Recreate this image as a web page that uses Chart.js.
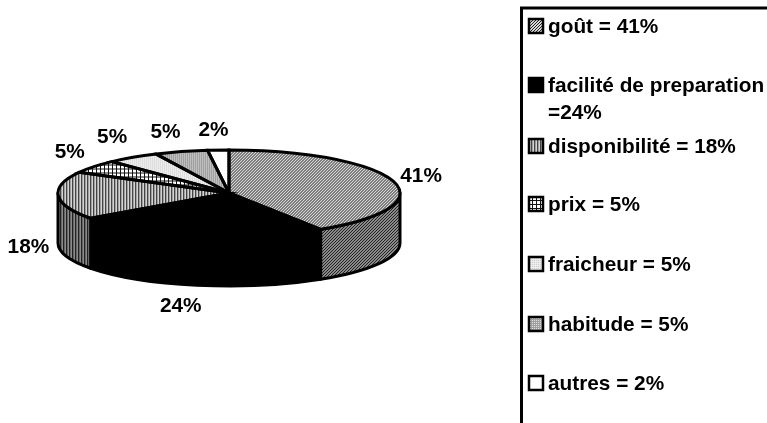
<!DOCTYPE html>
<html>
<head>
<meta charset="utf-8">
<style>
  html, body { margin: 0; padding: 0; background: #fff; overflow: hidden; }
  canvas { display: block; }
</style>
<script src="https://cdn.jsdelivr.net/npm/chart.js@4/dist/chart.umd.min.js"></script>
</head>
<body>
<canvas id="pie" width="767" height="423"></canvas>
<script>
const categories = ['goût', 'facilité de preparation', 'disponibilité', 'prix', 'fraicheur', 'habitude', 'autres'];
const shares = [41, 24, 18, 5, 5, 5, 2];
const shareLabels = ['41%', '24%', '18%', '5%', '5%', '5%', '2%'];
const legendLines = [
  ['goût = 41%'],
  ['facilité de preparation', '=24%'],
  ['disponibilité = 18%'],
  ['prix = 5%'],
  ['fraicheur = 5%'],
  ['habitude = 5%'],
  ['autres = 2%']
];

const FONT = 'bold 20.8px "Liberation Sans", Arial, sans-serif';
const CENTER_Y = 193;     // centre of the top face on the page
const SQUASH = 43 / 171;  // tilt of the disc
const DEPTH = 50;         // height of the wall
const LINE = 3;

// small pixel tiles for the print style fills
function tile(w, h, paint) {
  const c = document.createElement('canvas');
  c.width = w;
  c.height = h;
  const g = c.getContext('2d');
  for (let y = 0; y < h; y++) {
    for (let x = 0; x < w; x++) {
      g.fillStyle = paint(x, y);
      g.fillRect(x, y, 1, 1);
    }
  }
  return c;
}

function pattern(c, squashed) {
  const p = c.getContext('2d').createPattern(c, 'repeat');
  if (squashed) p.setTransform(new DOMMatrix().scale(1, 1 / SQUASH));
  return p;
}

const tiles = [
  tile(3, 3, (x, y) => (x + y) % 3 === 0 ? '#222' : '#d8d8d8'),
  null,
  tile(3, 1, x => ['#444', '#a0a0a0', '#d4d4d4'][x]),
  tile(4, 4, (x, y) => (x % 4 === 0 || y % 4 === 0) ? '#111' : '#fff'),
  tile(4, 4, (x, y) => (x % 2 === 0 && y % 2 === 0) ? '#cfcfcf' : '#ececec'),
  tile(4, 4, (x, y) => (x % 2 === 0 && y % 2 === 0) ? '#dcdcdc' : '#a0a0a0'),
  null
];
const solidFills = ['', '#000', '', '', '', '', '#fff'];

const wallTiles = [
  tile(3, 3, (x, y) => (x + y) % 3 === 0 ? '#222' : '#8a8a8a'),
  null,
  tile(3, 1, x => ['#222', '#666', '#8c8c8c'][x])
];

const faceFills = tiles.map((t, i) => t ? pattern(t, true) : solidFills[i]);
const plainFills = tiles.map((t, i) => t ? pattern(t, false) : solidFills[i]);
const wallFills = [pattern(wallTiles[0], false), '#000', pattern(wallTiles[2], false)];

// hand placement of the percentages, the way the labels were dragged
const labelNudge = [[4, 1], [-8, 0], [1, 0], [1, -2], [-2, -3], [-5, 1], [0, 1]];

function faceY(arc, sin) {
  return CENTER_Y + sin * arc.outerRadius * SQUASH;
}

// Disc drawing: chart.js paints the arcs under a vertical squash,
// walls go below them and outlines above them.
const tiltedDisc = {
  id: 'tiltedDisc',
  beforeDatasetsDraw(chart) {
    const ctx = chart.ctx;
    const arcs = chart.getDatasetMeta(0).data;
    ctx.save();
    ctx.lineWidth = LINE;
    ctx.strokeStyle = '#000';
    ctx.lineJoin = 'round';
    arcs.forEach((arc, i) => {
      const a0 = Math.max(arc.startAngle, 0);
      const a1 = Math.min(arc.endAngle, Math.PI);
      if (a1 <= a0) return;
      const rx = arc.outerRadius;
      const ry = rx * SQUASH;
      ctx.beginPath();
      ctx.ellipse(arc.x, CENTER_Y, rx, ry, 0, a0, a1);
      ctx.lineTo(arc.x + rx * Math.cos(a1), faceY(arc, Math.sin(a1)) + DEPTH);
      ctx.ellipse(arc.x, CENTER_Y + DEPTH, rx, ry, 0, a1, a0, true);
      ctx.closePath();
      ctx.fillStyle = wallFills[i];
      ctx.fill();
      ctx.stroke();
    });
    ctx.restore();

    ctx.save();
    ctx.translate(0, CENTER_Y);
    ctx.scale(1, SQUASH);
    ctx.translate(0, -arcs[0].y);
  },
  afterDatasetsDraw(chart) {
    const ctx = chart.ctx;
    const arcs = chart.getDatasetMeta(0).data;
    ctx.restore();

    ctx.save();
    ctx.lineWidth = LINE;
    ctx.strokeStyle = '#000';
    ctx.lineJoin = 'miter';
    arcs.forEach(arc => {
      const rx = arc.outerRadius;
      ctx.beginPath();
      ctx.moveTo(arc.x, CENTER_Y);
      ctx.ellipse(arc.x, CENTER_Y, rx, rx * SQUASH, 0, arc.startAngle, arc.endAngle);
      ctx.closePath();
      ctx.stroke();
    });

    // percentages around the rim
    ctx.font = FONT;
    ctx.fillStyle = '#000';
    ctx.textAlign = 'center';
    ctx.textBaseline = 'middle';
    arcs.forEach((arc, i) => {
      const mid = (arc.startAngle + arc.endAngle) / 2;
      const sin = Math.sin(mid);
      const x = arc.x + Math.cos(mid) * (arc.outerRadius + 28) - 3;
      let y = CENTER_Y + sin * (arc.outerRadius * SQUASH + 21);
      if (sin > 0) y += DEPTH * Math.min(1, sin + Math.abs(Math.cos(mid)));
      ctx.fillText(shareLabels[i], x + labelNudge[i][0], y + labelNudge[i][1]);
    });
    ctx.restore();
  },
  afterDraw(chart) {
    drawLegend(chart.ctx);
  }
};

// Framed key on the right, open at the page edges
function drawLegend(ctx) {
  const rows = [26, 85, 146, 204, 264, 324, 383];
  ctx.save();
  ctx.strokeStyle = '#000';
  ctx.lineWidth = 3;
  ctx.beginPath();
  ctx.moveTo(521.5, 423);
  ctx.lineTo(521.5, 8);
  ctx.lineTo(767, 8);
  ctx.stroke();

  ctx.font = FONT;
  ctx.textAlign = 'left';
  ctx.textBaseline = 'middle';
  legendLines.forEach((lines, i) => {
    const y = rows[i];
    ctx.fillStyle = plainFills[i];
    ctx.fillRect(529, y - 7, 14, 14);
    ctx.lineWidth = 2.5;
    ctx.strokeRect(529, y - 7, 14, 14);
    ctx.fillStyle = '#000';
    lines.forEach((line, k) => ctx.fillText(line, 548, y + 1 + k * 27));
  });
  ctx.restore();
}

new Chart(document.getElementById('pie'), {
  type: 'pie',
  data: {
    labels: categories,
    datasets: [{
      data: shares,
      backgroundColor: faceFills,
      borderWidth: 0
    }]
  },
  options: {
    responsive: false,
    animation: false,
    layout: { padding: { left: 58, right: 367, top: 22, bottom: 59 } },
    plugins: { legend: { display: false }, tooltip: { enabled: false } }
  },
  plugins: [tiltedDisc]
});
</script>
</body>
</html>
